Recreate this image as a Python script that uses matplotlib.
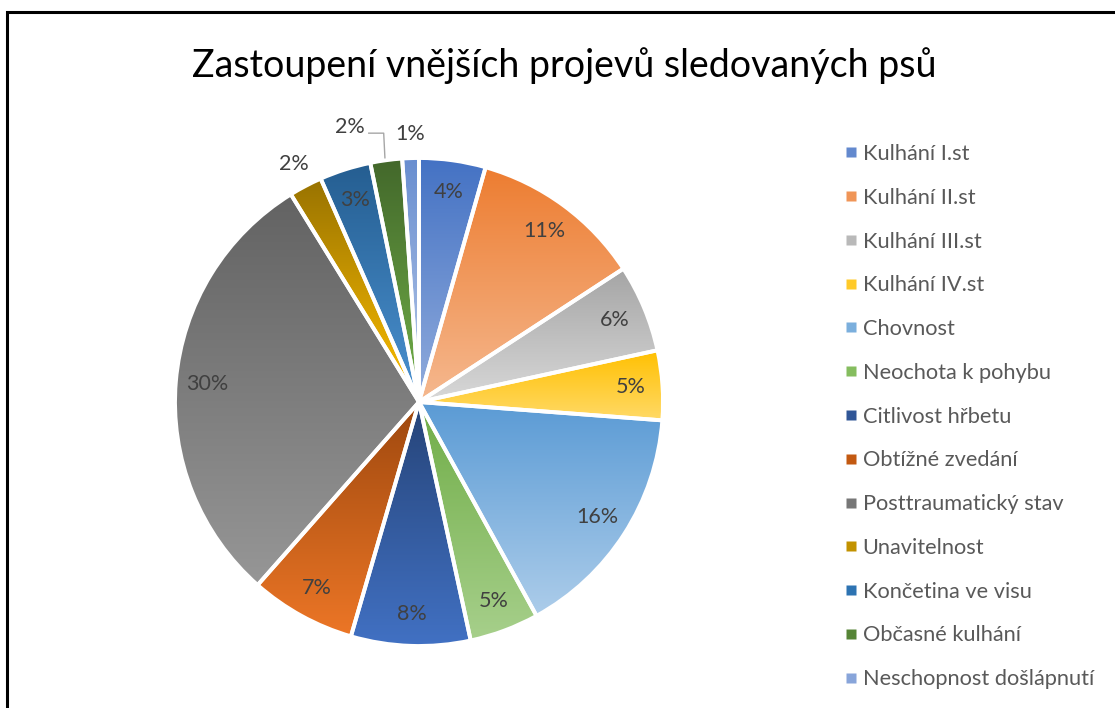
import numpy as np
import matplotlib.pyplot as plt
import colorsys
from matplotlib.colors import to_rgb
from matplotlib.lines import Line2D

plt.rcParams['font.family'] = ['Lato', 'DejaVu Sans']

# data (shares in %)
labels = ["Kulhání I.st", "Kulhání II.st", "Kulhání III.st", "Kulhání IV.st",
          "Chovnost", "Neochota k pohybu", "Citlivost hřbetu", "Obtížné zvedání",
          "Posttraumatický stav", "Unavitelnost", "Končetina ve visu",
          "Občasné kulhání", "Neschopnost došlápnutí"]
values = [4.4, 11.4, 5.8, 4.6, 15.8, 4.6, 7.9, 7.0, 29.7, 2.2, 3.4, 2.1, 1.1]
colors = ["#4472C4", "#ED7D31", "#A5A5A5", "#FFC000", "#5B9BD5", "#70AD47",
          "#264478", "#9E480E", "#636363", "#997300", "#255E91", "#43682B",
          "#698ED0"]


def lighter(c, dl):
    h, l, s = colorsys.rgb_to_hls(*to_rgb(c))
    return colorsys.hls_to_rgb(h, min(l + dl, 0.95), s)


fig = plt.figure(figsize=(11.15, 7.08), dpi=100)

# frame around the chart
fig.patches.append(plt.Rectangle((7 / 1115, -0.05), 1.2, 1 - 12 / 708 + 0.05,
                                 transform=fig.transFigure, fill=False,
                                 edgecolor="black", linewidth=2.2))

fig.text(0.506, 1 - 66 / 708, "Zastoupení vnějších projevů sledovaných psů",
         ha="center", va="center", fontsize=27, color="black")

cx, cy, r = 419, 402, 244
ax = fig.add_axes([(cx - r) / 1115, (708 - cy - r) / 708, 2 * r / 1115, 2 * r / 708])

wedges, _ = ax.pie(values, startangle=90, counterclock=False, radius=1,
                   colors=colors,
                   wedgeprops=dict(edgecolor="white", linewidth=2.8))
ax.set_xlim(-1, 1)
ax.set_ylim(-1, 1)
ax.set_aspect("equal")
ax.axis("off")

# vertical gradient fill of each slice, darker at the top
total = sum(values)
for w, v, c in zip(wedges, values, colors):
    t1, t2 = w.theta1, w.theta2
    th = np.radians(np.linspace(t1, t2, 100))
    ys = np.concatenate([[0], np.sin(th)])
    ymin, ymax = ys.min(), ys.max()
    top = np.array(to_rgb(c))
    bot = np.array(lighter(c, 0.2))
    g = np.linspace(0, 1, 64)[:, None]
    img = top[None, :] * (1 - g) + bot[None, :] * g
    img = img[:, None, :]
    im = ax.imshow(img, extent=[-1, 1, ymin, ymax], origin="upper",
                   aspect="auto", zorder=1, interpolation="bilinear")
    im.set_clip_path(w)
    w.set_facecolor("none")
    w.set_zorder(2)

    mid = np.radians((t1 + t2) / 2)
    pct = f"{round(100 * v / total)}%"
    if v >= 3:
        ax.text(0.87 * np.cos(mid), 0.87 * np.sin(mid), pct, ha="center",
                va="center", fontsize=15.5, color="#404040", zorder=3)

ax.set_xlim(-1, 1)
ax.set_ylim(-1, 1)

# outside labels of the small slices
small = [i for i, v in enumerate(values) if v < 3]
for i in small:
    w = wedges[i]
    mid = np.radians((w.theta1 + w.theta2) / 2)
    pct = f"{round(100 * values[i] / total)}%"
    if labels[i] == "Občasné kulhání":
        a2 = mid + np.radians(6.4)
        lx, ly = 1.162 * np.cos(a2), 1.162 * np.sin(a2)
        ax.text(lx, ly, pct, ha="center", va="center", fontsize=15.5,
                color="#404040", clip_on=False)
        ex, ey = np.cos(mid), np.sin(mid)
        ax.plot([lx + 0.078, ex - 0.01, ex - 0.005], [ly - 0.025, ly - 0.025, ey + 0.01],
                color="#a6a6a6", linewidth=1, clip_on=False)
    else:
        ax.text(1.10 * np.cos(mid), 1.10 * np.sin(mid), pct, ha="center",
                va="center", fontsize=15.5, color="#404040", clip_on=False)

handles = [Line2D([], [], linestyle="none", marker="s", markersize=6.5,
                  markerfacecolor=lighter(c, 0.08), markeredgecolor="none")
           for c in colors]
fig.legend(handles, labels, loc="upper left",
           bbox_to_anchor=(843 / 1115, 1 - 144 / 708), frameon=False,
           fontsize=15.7, labelcolor="#595959", handlelength=0.7,
           handletextpad=0.2, labelspacing=1.09, borderpad=0, borderaxespad=0)

fig.savefig("out.png", dpi=100)
